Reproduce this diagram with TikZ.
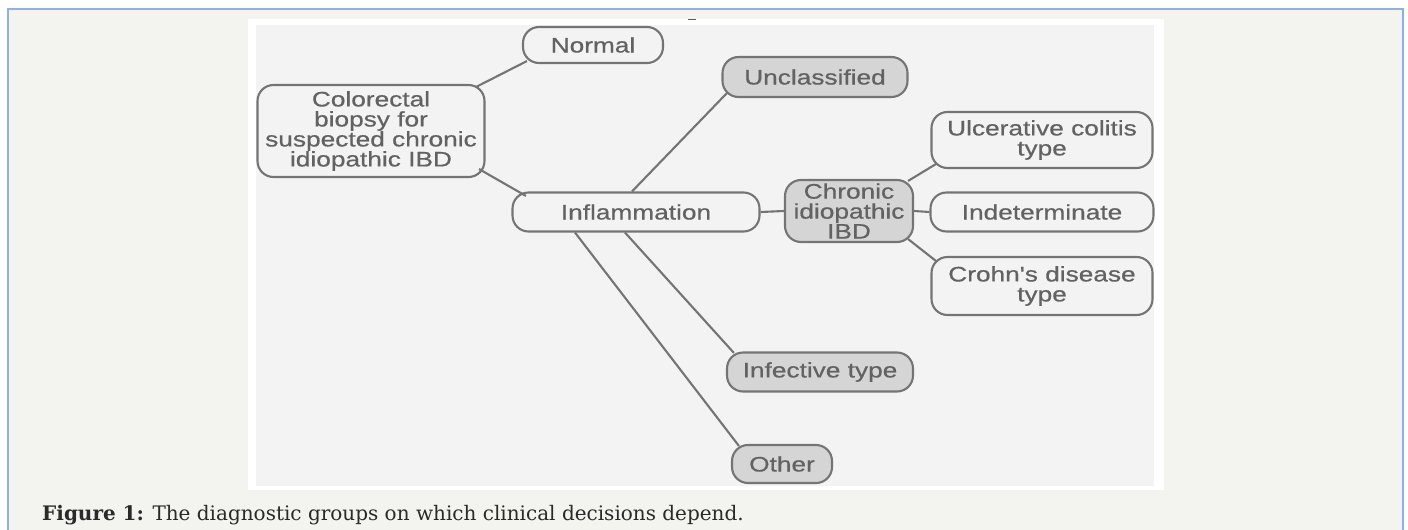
\documentclass[tikz,border=0pt]{standalone}
\usepackage{fontspec}
\usetikzlibrary{calc}
\newfontfamily\diagfont[FakeStretch=1.25,FakeBold=0.6]{Liberation Sans}
\newfontfamily\capfont{DejaVu Serif}
\definecolor{outerbg}{HTML}{F3F4EF}
\definecolor{framebl}{HTML}{8EB1E3}
\definecolor{scanbg}{HTML}{F3F3F3}
\definecolor{boxline}{HTML}{747474}
\definecolor{boxtext}{HTML}{626262}
\definecolor{boxgray}{HTML}{D5D5D5}
\definecolor{captext}{HTML}{2A2A2A}
\tikzset{
  diagbox/.style={draw=boxline, line width=2.1pt, rounded corners=16pt, fill=scanbg,
    inner sep=0pt, align=center, text=boxtext,
    font=\diagfont\fontsize{21}{20}\selectfont},
  graybox/.style={diagbox, fill=boxgray},
  link/.style={draw=boxline, line width=2.1pt}
}
\begin{document}
\begin{tikzpicture}[x=1pt,y=-1pt]
\useasboundingbox (0,0) rectangle (1408,530);
% page background and frame
\fill[white] (0,0) rectangle (1408,530);
\fill[outerbg] (8,9) rectangle (1403,530);
\draw[framebl, line width=1.2pt] (8,530) -- (8,9) -- (1403,9) -- (1403,530);
% scanned figure area
\fill[white] (248,19) rectangle (1164,490);
\fill[scanbg] (256,25) rectangle (1154,486);
\draw[boxline!80!black, line width=1.5pt] (688,19.5) -- (696,19.5);
% nodes
\node[diagbox, minimum width=140pt, minimum height=36pt] (normal) at (593,45) {Normal};
\node[diagbox, minimum width=227pt, minimum height=92pt] (biopsy) at (371,131) {Colorectal\\biopsy for\\suspected chronic\\idiopathic IBD};
\node[diagbox, minimum width=247pt, minimum height=39pt] (infl) at (636,212) {Inflammation};
\node[graybox, minimum width=185pt, minimum height=40pt] (uncl) at (815,77) {Unclassified};
\node[graybox, minimum width=128pt, minimum height=62pt] (cib) at (849,211) {Chronic\\idiopathic\\IBD};
\node[diagbox, minimum width=221pt, minimum height=56pt] (uc) at (1042,140) {Ulcerative colitis\\type};
\node[diagbox, minimum width=223pt, minimum height=39pt] (ind) at (1042,212) {Indeterminate};
\node[diagbox, minimum width=221pt, minimum height=58pt] (crohn) at (1042,286) {Crohn's disease\\type};
\node[graybox, minimum width=186pt, minimum height=39pt] (inf) at (820,372) {Infective type};
\node[graybox, minimum width=100pt, minimum height=38pt] (other) at (782,464) {Other};
% connectors
\draw[link] ($(biopsy.north east)+(-9.5,3)$) -- ($(normal.south west)+(5,-3)$);
\draw[link] ($(biopsy.south east)+(-6.5,-9)$) -- ($(infl.north west)+(14.5,4.5)$);
\draw[link] ($(infl.north)+(-4,0)$) -- ($(uncl.south west)+(5.5,-5)$);
\draw[link] (infl.east) -- (cib.west);
\draw[link] ($(cib.north east)+(-6,2)$) -- ($(uc.south west)+(5.5,-5)$);
\draw[link] (cib.east) -- (ind.west);
\draw[link] ($(cib.south east)+(-6,-4)$) -- ($(crohn.north west)+(5.5,5)$);
\draw[link] ($(infl.south)+(-11,0)$) -- ($(inf.north west)+(8,1.5)$);
\draw[link] ($(infl.south)+(-61,0)$) -- ($(other.north west)+(8,2)$);
% caption
\node[anchor=base west, inner sep=0pt, text=captext, font=\capfont\fontsize{20}{22}\selectfont] (cap) at (42,520)
  {\textbf{Figure 1:} The diagnostic groups on which clinical decisions depend.};
\end{tikzpicture}
\end{document}
